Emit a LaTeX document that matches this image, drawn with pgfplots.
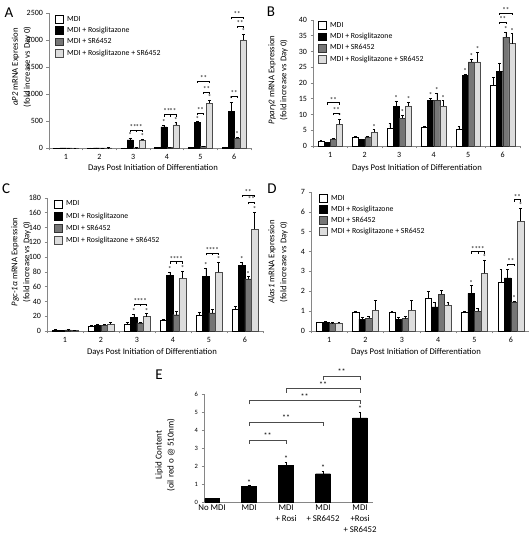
\documentclass[border=0pt]{standalone}
\usepackage{fontspec}
\setmainfont{Carlito}
\usepackage{pgfplots}
\pgfplotsset{compat=1.18}
\usepackage{pgfplotstable}

\definecolor{axcol}{RGB}{134,134,134}
\definecolor{srg}{RGB}{118,118,118}
\definecolor{lgr}{RGB}{221,221,221}

\newcommand{\annfont}{\fontsize{7}{7}\selectfont}
\newcommand{\st}[2]{\node[font=\annfont, anchor=south, inner sep=0.3pt] at (axis cs:#1,#2) {*};}
\newcommand{\brk}[4]{\draw[line width=0.45pt] ([yshift=-2pt]axis cs:#1,#3) -- (axis cs:#1,#3) -- node[above, inner sep=0.3pt, font=\annfont]{#4} (axis cs:#2,#3) -- ([yshift=-2pt]axis cs:#2,#3);}
\newcommand{\stE}[2]{\node[font=\fontsize{8}{8}\selectfont, anchor=south, inner sep=0.3pt] at (axis cs:#1,#2) {*};}
\newcommand{\brkE}[4]{\draw[line width=0.5pt, black!70] ([yshift=-4pt]axis cs:#1,#3) -- (axis cs:#1,#3) -- node[above, inner sep=0.8pt, font=\fontsize{8}{8}\selectfont, black]{#4} (axis cs:#2,#3) -- ([yshift=-4pt]axis cs:#2,#3);}

\pgfplotstableread{
d W We B Be S Se L Le
1 1 0 2 0 1 0 2 0
2 2 1 4 1 2 1 5 2
3 3 1 150 40 5 2 140 20
4 8 2 390 30 8 2 430 40
5 10 3 470 20 30 5 830 60
6 15 5 680 165 180 20 2000 110
}\tA
\pgfplotstableread{
d W We B Be S Se L Le
1 1.6 0.2 1.1 0.1 2.3 0.2 6.9 1.6
2 2.9 0.2 2.1 0.2 2.9 0.2 4.4 0.8
3 5.8 1.5 12.5 1.8 8.8 1.0 12.7 1.3
4 5.9 0.5 14.4 0.8 14.6 2.2 12.7 1.7
5 5.3 1.0 22.4 0.4 26.7 1.0 26.7 3.0
6 19.3 2.4 23.6 2.8 34.6 1.6 32.5 3.2
}\tB
\pgfplotstableread{
d W We B Be S Se L Le
1 1.5 0.3 1.0 0.2 1.5 0.3 1.0 0.2
2 7 1 8 1 8 1 9 2.5
3 9.5 2 18.5 4.5 11 1.5 19.5 4
4 15 1 75.5 4.5 22 5 71.5 10
5 22 3 73.5 12 24.5 5 79.5 14
6 29.5 3.5 89 4 70.5 3 138 23
}\tC
\pgfplotstableread{
d W We B Be S Se L Le
1 0.43 0.03 0.44 0.03 0.40 0.02 0.41 0.02
2 0.94 0.05 0.60 0.10 0.64 0.12 1.05 0.48
3 0.94 0.05 0.60 0.08 0.62 0.12 1.05 0.48
4 1.66 0.32 1.22 0.22 1.84 0.20 1.30 0.15
5 0.97 0.03 1.89 0.40 1.00 0.15 2.90 0.68
6 2.45 0.65 2.68 0.45 1.47 0.05 5.53 0.65
}\tD
\pgfplotstableread{
x v e
1 0.20 0.01
2 0.85 0.06
3 2.05 0.17
4 1.57 0.15
5 4.68 0.32
}\tE

\pgfplotsset{
  base/.style={
    scale only axis, clip=false,
    axis x line*=bottom, axis y line*=left,
    axis line style={axcol, line width=0.6pt},
    tick align=outside, major tick length=2.5pt,
    tick style={axcol, line width=0.6pt},
    tick label style={font=\fontsize{8}{8.5}\selectfont},
    /pgf/number format/assume math mode=true,
    /pgf/number format/1000 sep={},
    ymin=0,
    error bars/y dir=plus, error bars/y explicit,
    error bars/error bar style={black, line width=0.45pt},
    error bars/error mark options={rotate=90, mark size=1.4pt, line width=0.45pt, black},
  },
  grp/.style={base,
    ybar=0pt, bar width=0.18,
    xmin=0.5, xmax=6.5,
    xtick={0.5,1.5,...,6.5}, xticklabels={},
    extra x ticks={1,2,3,4,5,6}, extra x tick labels={1,2,3,4,5,6},
    extra x tick style={tick style={draw=none}},
    legend style={draw=none, fill=none, inner sep=0pt, column sep=3pt,
      font=\fontsize{7.8}{8}\selectfont, cells={anchor=west}, nodes={inner sep=0.8pt}},
    legend image code/.code={\draw[#1, line width=0.5pt] (0pt,-3.8pt) rectangle (7.6pt,3.8pt);},
    every axis plot/.append style={line width=0.45pt},
  },
}

\newcommand{\fourplots}[1]{%
\addplot[fill=white,draw=black] table[x=d,y=W,y error=We]{#1};
\addplot[fill=black,draw=black] table[x=d,y=B,y error=Be]{#1};
\addplot[fill=srg,draw=black!80] table[x=d,y=S,y error=Se]{#1};
\addplot[fill=lgr,draw=black!70] table[x=d,y=L,y error=Le]{#1};
\legend{MDI, MDI + Rosiglitazone, MDI + SR6452, MDI + Rosiglitazone + SR6452}
}

\begin{document}
\begin{tikzpicture}
\useasboundingbox (0,0) rectangle (529pt,536pt);

% Panel A
\begin{axis}[grp, at={(49pt,388pt)}, anchor=south west, width=202pt, height=135pt,
  ymax=2500, ytick={0,500,...,2500},
  legend style={at={(0.03,0.985)}, anchor=north west, row sep=2.9pt}]
\fourplots{\tA}
\st{2.91}{190} \st{3.27}{160}
\brk{2.91}{3.09}{330}{**} \brk{3.09}{3.27}{330}{**}
\st{3.91}{420} \st{4.27}{470}
\brk{3.91}{4.09}{620}{**} \brk{4.09}{4.27}{620}{**}
\st{4.91}{490} \st{5.27}{890}
\brk{4.91}{5.09}{640}{**} \brk{5.09}{5.27}{1040}{**} \brk{4.91}{5.27}{1240}{**}
\st{5.91}{845} \st{6.09}{200} \st{6.27}{2110}
\brk{5.91}{6.09}{960}{**} \brk{6.09}{6.27}{2260}{**} \brk{5.91}{6.27}{2420}{**}
\end{axis}

% Panel B
\begin{axis}[grp, at={(313pt,390pt)}, anchor=south west, width=207pt, height=126pt,
  ymax=40, ytick={0,5,...,40},
  legend style={at={(0.024,0.99)}, anchor=north west, row sep=2.9pt}]
\fourplots{\tB}
\st{1.27}{8.5} \brk{1.09}{1.27}{10.4}{**} \brk{0.91}{1.27}{13.8}{**}
\st{2.27}{5.2}
\st{2.91}{14.3} \st{3.09}{9.8} \st{3.27}{14.0}
\st{3.91}{15.2} \st{4.09}{16.8} \st{4.27}{14.4}
\st{4.91}{22.8} \st{5.09}{27.7} \st{5.27}{29.7}
\st{6.09}{36.2} \st{6.27}{35.7}
\brk{5.91}{6.09}{39.3}{**} \brk{5.91}{6.27}{42.3}{**}
\end{axis}

% Panel C
\begin{axis}[grp, at={(47pt,205pt)}, anchor=south west, width=216pt, height=133pt,
  ymax=180, ytick={0,20,...,180},
  legend style={at={(0.032,0.985)}, anchor=north west, row sep=3.6pt}]
\fourplots{\tC}
\st{2.91}{23} \st{3.27}{23.5}
\brk{2.91}{3.09}{36}{**} \brk{3.09}{3.27}{36}{**}
\st{3.91}{80} \st{4.27}{81.5}
\brk{3.91}{4.09}{94}{**} \brk{4.09}{4.27}{94}{**}
\st{4.91}{85.5} \st{5.27}{93.5}
\brk{4.91}{5.09}{105}{**} \brk{5.09}{5.27}{105}{**}
\st{5.91}{93} \st{6.09}{73.5} \st{6.27}{161}
\brk{6.09}{6.27}{174}{**} \brk{5.91}{6.27}{184}{**}
\end{axis}

% Panel D
\begin{axis}[grp, at={(311pt,205pt)}, anchor=south west, width=218pt, height=139pt,
  ymax=7, ytick={0,1,...,7},
  legend style={at={(0.037,0.985)}, anchor=north west, row sep=2.6pt}]
\fourplots{\tD}
\st{4.91}{2.29} \st{5.27}{3.58}
\brk{4.91}{5.09}{4.0}{**} \brk{5.09}{5.27}{4.0}{**}
\st{6.09}{1.52} \brk{5.91}{6.09}{3.37}{**}
\st{6.27}{6.18} \brk{6.09}{6.27}{6.62}{**}
\end{axis}

% Panel E
\begin{axis}[base, at={(204pt,34pt)}, anchor=south west, width=169pt, height=108pt,
  ybar, bar width=0.4, xmin=0.78, xmax=5.35, ymax=6, ytick={0,1,...,6},
  xtick={1,2,3,4,5}, x tick style={draw=none},
  xticklabels={No MDI, MDI, {MDI\\+ Rosi}, {MDI\\+ SR6452}, {MDI\\+Rosi\\+ SR6452}},
  xticklabel style={align=center, font=\fontsize{8.8}{10.8}\selectfont, yshift=3pt},
  yticklabel style={font=\fontsize{6.5}{7}\selectfont}]
\addplot[fill=black, draw=black, line width=0.45pt] table[x=x,y=v,y error=e]{\tE};
\stE{2}{0.91} \stE{3}{2.22} \stE{4}{1.72} \stE{5}{5.0}
\brkE{2}{3}{3.45}{**}
\brkE{2}{4}{4.45}{**}
\brkE{2}{5}{5.65}{**}
\brkE{3}{5}{6.3}{**}
\brkE{4}{5}{7.0}{**}
\end{axis}

% axis titles
\begin{scope}[every node/.style={font=\fontsize{8.7}{12}\selectfont}]
\node[rotate=90, align=center] at (21.5pt,469pt) {\textit{aP2} mRNA Expression\\(fold increase vs Day 0)};
\node[rotate=90, align=center] at (278pt,456pt) {\textit{Pparγ2} mRNA Expression\\(fold increase vs Day 0)};
\node[rotate=90, align=center] at (21pt,274pt) {\textit{Pgc-1α} mRNA Expression\\(fold increase vs Day 0)};
\node[rotate=90, align=center] at (278pt,274pt) {\textit{Alas1} mRNA Expression\\(fold increase vs Day 0)};
\node at (153pt,368pt) {Days Post Initiation of Differentiation};
\node at (417pt,368pt) {Days Post Initiation of Differentiation};
\node at (152pt,184pt) {Days Post Initiation of Differentiation};
\node at (416pt,184pt) {Days Post Initiation of Differentiation};
\end{scope}
\node[rotate=90, align=center, font=\fontsize{9}{12}\selectfont] at (165pt,81pt) {Lipid Content\\(oil red o @ 510nm)};

\begin{scope}[every node/.style={font=\fontsize{15}{15}\selectfont}]
\node at (9pt,523.5pt) {A};
\node at (271pt,524pt) {B};
\node at (6pt,347pt) {C};
\node at (272pt,347pt) {D};
\node at (159pt,161pt) {E};
\end{scope}
\end{tikzpicture}
\end{document}
